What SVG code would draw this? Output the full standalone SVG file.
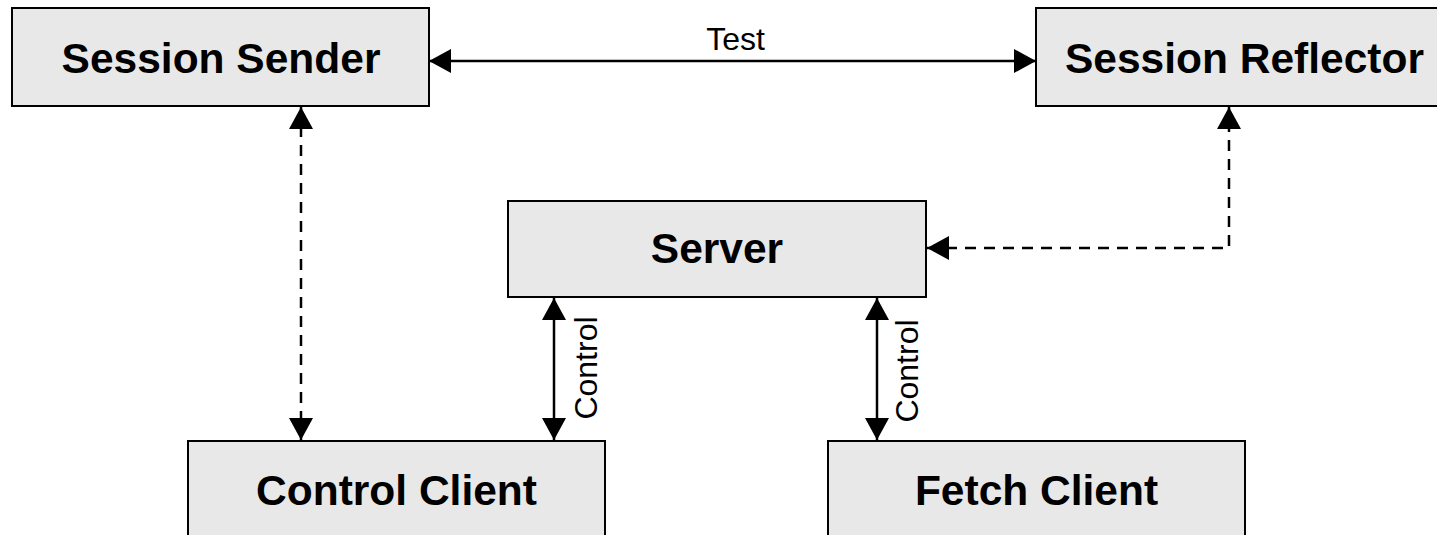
<svg xmlns="http://www.w3.org/2000/svg" width="1437" height="535" viewBox="0 0 1437 535">
  <style>
    .box { fill: #e8e8e8; stroke: #000; stroke-width: 2; }
    .title { font-family: "Liberation Sans", Arial, sans-serif; font-weight: bold; font-size: 42.5px; fill: #000; text-anchor: middle; }
    .label { font-family: "Liberation Sans", Arial, sans-serif; font-size: 32px; fill: #000; text-anchor: middle; }
    .link { fill: none; stroke: #000; stroke-width: 2.5; marker-start: url(#head); marker-end: url(#head); }
    .dashed { stroke-dasharray: 11 8; }
  </style>
  <defs>
    <marker id="head" markerUnits="userSpaceOnUse" markerWidth="22" markerHeight="24" refX="22" refY="12" orient="auto-start-reverse">
      <path d="M0,0 L22,12 L0,24 z" fill="#000"/>
    </marker>
  </defs>

  <!-- connectors -->
  <g id="connectors">
    <line class="link" x1="429" y1="61" x2="1036" y2="61"/>
    <text class="label" x="735.5" y="50">Test</text>
    <line class="link dashed" x1="301" y1="107" x2="301" y2="440"/>
    <polyline class="link dashed" points="927,248 1229,248 1229,107"/>
    <line class="link" x1="554" y1="298" x2="554" y2="440"/>
    <text class="label" x="597" y="368" transform="rotate(-90 597 368)">Control</text>
    <line class="link" x1="877" y1="298" x2="877" y2="440"/>
    <text class="label" x="918" y="371" transform="rotate(-90 918 371)">Control</text>
  </g>

  <g id="session-sender">
    <rect class="box" x="12" y="8" width="417" height="98"/>
    <text class="title" x="221" y="73">Session Sender</text>
  </g>

  <g id="session-reflector">
    <rect class="box" x="1036" y="8" width="417" height="98"/>
    <text class="title" x="1244.5" y="73">Session Reflector</text>
  </g>

  <g id="server">
    <rect class="box" x="508" y="201" width="418" height="96"/>
    <text class="title" x="717" y="263">Server</text>
  </g>

  <g id="control-client">
    <rect class="box" x="188" y="441" width="417" height="98"/>
    <text class="title" x="396.5" y="505">Control Client</text>
  </g>

  <g id="fetch-client">
    <rect class="box" x="828" y="441" width="417" height="98"/>
    <text class="title" x="1036.5" y="505">Fetch Client</text>
  </g>
</svg>
